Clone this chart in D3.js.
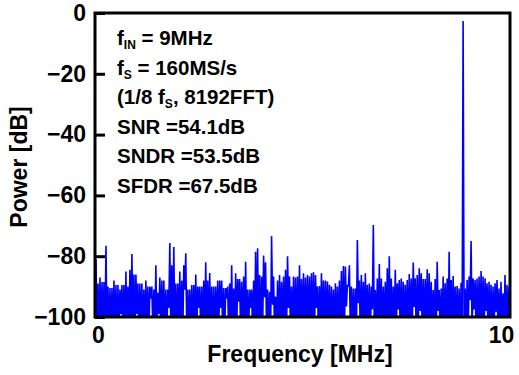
<!DOCTYPE html>
<html>
<head>
<meta charset="utf-8">
<script src="https://cdn.jsdelivr.net/npm/d3@7"></script>
<style>
  body { margin: 0; background: #fff; }
  text { font-family: "Liberation Sans", Arial, sans-serif; font-weight: bold; fill: #000; }
</style>
</head>
<body>
<script>
// Size of the picture
var width = 519;
var height = 375;

// Spectrum: top of each ~0.048 MHz column (dB)
var peaks = [-81, -89, -87, -88.5, -88.5, -76.6, -90, -90.5, -90.5, -88,
  -89.5, -89.5, -91, -89.5, -89.5, -85, -90, -84.5, -79.3, -86,
  -86, -89, -89, -89, -91, -88, -90, -90, -90, -91,
  -83, -92, -87, -88, -88, -91, -91, -75.7, -83, -77,
  -89, -89, -85, -88, -83, -79, -91, -91, -89.5, -89.5,
  -86, -90, -90, -90, -88, -82, -88, -85.5, -90, -90,
  -90, -88, -88, -88, -90.5, -90.5, -90, -89, -83, -90.6,
  -85.6, -87.5, -87.5, -88.4, -86.7, -81.8, -91, -91, -91, -88,
  -78.5, -77.4, -86.2, -86.7, -79.8, -82, -91, -91.7, -73.4, -86.7,
  -93.3, -88, -86.2, -88.4, -86.7, -84.5, -80, -86.7, -90, -86.7,
  -87, -86.7, -83, -87.5, -85.6, -87, -86.2, -86.7, -85.6, -85.3,
  -86.2, -90, -89.8, -85.6, -88, -88, -88.3, -89.4, -90, -91,
  -88.9, -90, -88, -84.9, -83.2, -83.4, -89.4, -83, -90, -90.6,
  -90.6, -74.7, -88, -86.2, -88.4, -85.6, -89.4, -89, -90, -69.7,
  -91.1, -87.3, -82.6, -87.3, -90, -88.4, -84, -80, -87.3, -90,
  -84.5, -88.9, -87.8, -87.3, -88.4, -89.4, -87.8, -85.9, -87.3, -82.1,
  -87.3, -86.2, -84, -85.6, -87.5, -87.5, -84.3, -85.6, -88.4, -91.1,
  -87.5, -81.8, -91.1, -90.6, -86.7, -88.9, -87.3, -78.5, -87.8, -86.5,
  -90, -89.8, -90.6, -88.7, -2.6, -90.6, -87.8, -86.7, -75, -87.3,
  -87.8, -87.3, -86.7, -84.9, -86.7, -87.3, -88.9, -88.4, -89.4, -90,
  -88.9, -87.8, -90.6, -88.4, -92.2, -86.2, -89.4, -90];

// Columns where the noise does not fall below the axis (white gaps), and how low it gets
var gapBins = [12, 20, 27, 31, 36, 44, 51, 62, 65, 71, 77, 84, 88, 96, 110, 125, 126, 131, 138, 151,
  159, 162, 171, 187, 189, 195, 200];
var gapLevels = [-99, -99, -94, -99, -97, -91, -97, -97, -94, -95, -97, -93.5, -96, -97, -97, -96.5, -90, -95.5, -97.5, -97.5,
  -96.7, -98, -98, -94.5, -97.5, -98, -98.3];
var floorLevel = -106; // everywhere else the noise drops off the bottom

var xTicks = [0, 10];
var yTicks = [0, -20, -40, -60, -80, -100];

var notes = [
  [["f", false], ["IN", true], [" = 9MHz", false]],
  [["f", false], ["S", true], [" = 160MS/s", false]],
  [["(1/8 f", false], ["S", true], [", 8192FFT)", false]],
  [["SNR =54.1dB", false]],
  [["SNDR =53.5dB", false]],
  [["SFDR =67.5dB", false]]
];

// plot box (not "top": that name belongs to window)
var plotLeft = 95, plotRight = 510, plotTop = 13, plotBottom = 317;

var x = d3.scaleLinear().domain([0, 10]).range([plotLeft, plotRight]);
var y = d3.scaleLinear().domain([-100, 0]).range([plotBottom, plotTop]);

var svg = d3.select("body")
  .append("svg")
  .attr("width", width)
  .attr("height", height);

svg.append("clipPath")
    .attr("id", "plot-clip")
  .append("rect")
    .attr("x", plotLeft)
    .attr("y", plotTop)
    .attr("width", plotRight - plotLeft)
    .attr("height", plotBottom - plotTop);

// build the up/down trace: peak then dip for every column
var step = 10 / peaks.length;
var points = [];
for (var i = 0; i < peaks.length; i++) {
  var f = (i + 0.5) * step;
  var g = gapBins.indexOf(i);
  var dip = g >= 0 ? gapLevels[g] : floorLevel;
  points.push([f, peaks[i]]);
  points.push([f + step / 2, dip]);
}

var line = d3.line()
  .x(function(d) { return x(d[0]); })
  .y(function(d) { return y(d[1]); });

svg.append("path")
  .datum(points)
  .attr("clip-path", "url(#plot-clip)")
  .attr("d", line)
  .style("fill", "none")
  .style("stroke", "#0000ff")
  .style("stroke-width", 1.6)
  .style("stroke-linejoin", "miter")
  .style("stroke-miterlimit", 1);

// y axis, ticks pointing into the plot
var yAxis = svg.append("g")
  .attr("transform", "translate(" + plotLeft + ",0)")
  .call(d3.axisLeft(y).tickValues(yTicks).tickSize(-10).tickPadding(9));
yAxis.select(".domain").remove();
yAxis.selectAll("line").style("stroke", "#000").style("stroke-width", 3);
yAxis.selectAll("text").style("font-size", "23px");

// x axis, labels only
var xAxis = svg.append("g")
  .attr("transform", "translate(0," + plotBottom + ")")
  .call(d3.axisBottom(x).tickValues(xTicks).tickSize(0).tickPadding(10));
xAxis.select(".domain").remove();
xAxis.selectAll("text")
  .style("font-size", "23px")
  .attr("dx", function(d) { return d === 0 ? 3 : -9; });

// frame
svg.append("rect")
  .attr("x", plotLeft)
  .attr("y", plotTop)
  .attr("width", plotRight - plotLeft)
  .attr("height", plotBottom - plotTop)
  .style("fill", "none")
  .style("stroke", "#000")
  .style("stroke-width", 3);

// axis titles
svg.append("text")
  .attr("x", 300)
  .attr("y", 362)
  .attr("text-anchor", "middle")
  .style("font-size", "23px")
  .text("Frequency [MHz]");

svg.append("text")
  .attr("transform", "translate(27,167) rotate(-90)")
  .attr("text-anchor", "middle")
  .style("font-size", "23px")
  .text("Power [dB]");

// notes in the top left
var noteText = svg.selectAll(".note")
  .data(notes)
  .enter()
  .append("text")
  .attr("class", "note")
  .attr("x", 117)
  .attr("y", function(d, i) { return 45 + i * 29.5; })
  .style("font-size", "20.5px");

noteText.selectAll("tspan")
  .data(function(d) { return d; })
  .enter()
  .append("tspan")
  .style("font-size", function(d) { return d[1] ? "12px" : "20.5px"; })
  .attr("dy", function(d, i, nodes) {
    var prev = i > 0 ? d3.select(nodes[i - 1]).datum()[1] : false;
    if (d[1] && !prev) return 4;
    if (!d[1] && prev) return -4;
    return 0;
  })
  .text(function(d) { return d[0]; });
</script>
</body>
</html>
